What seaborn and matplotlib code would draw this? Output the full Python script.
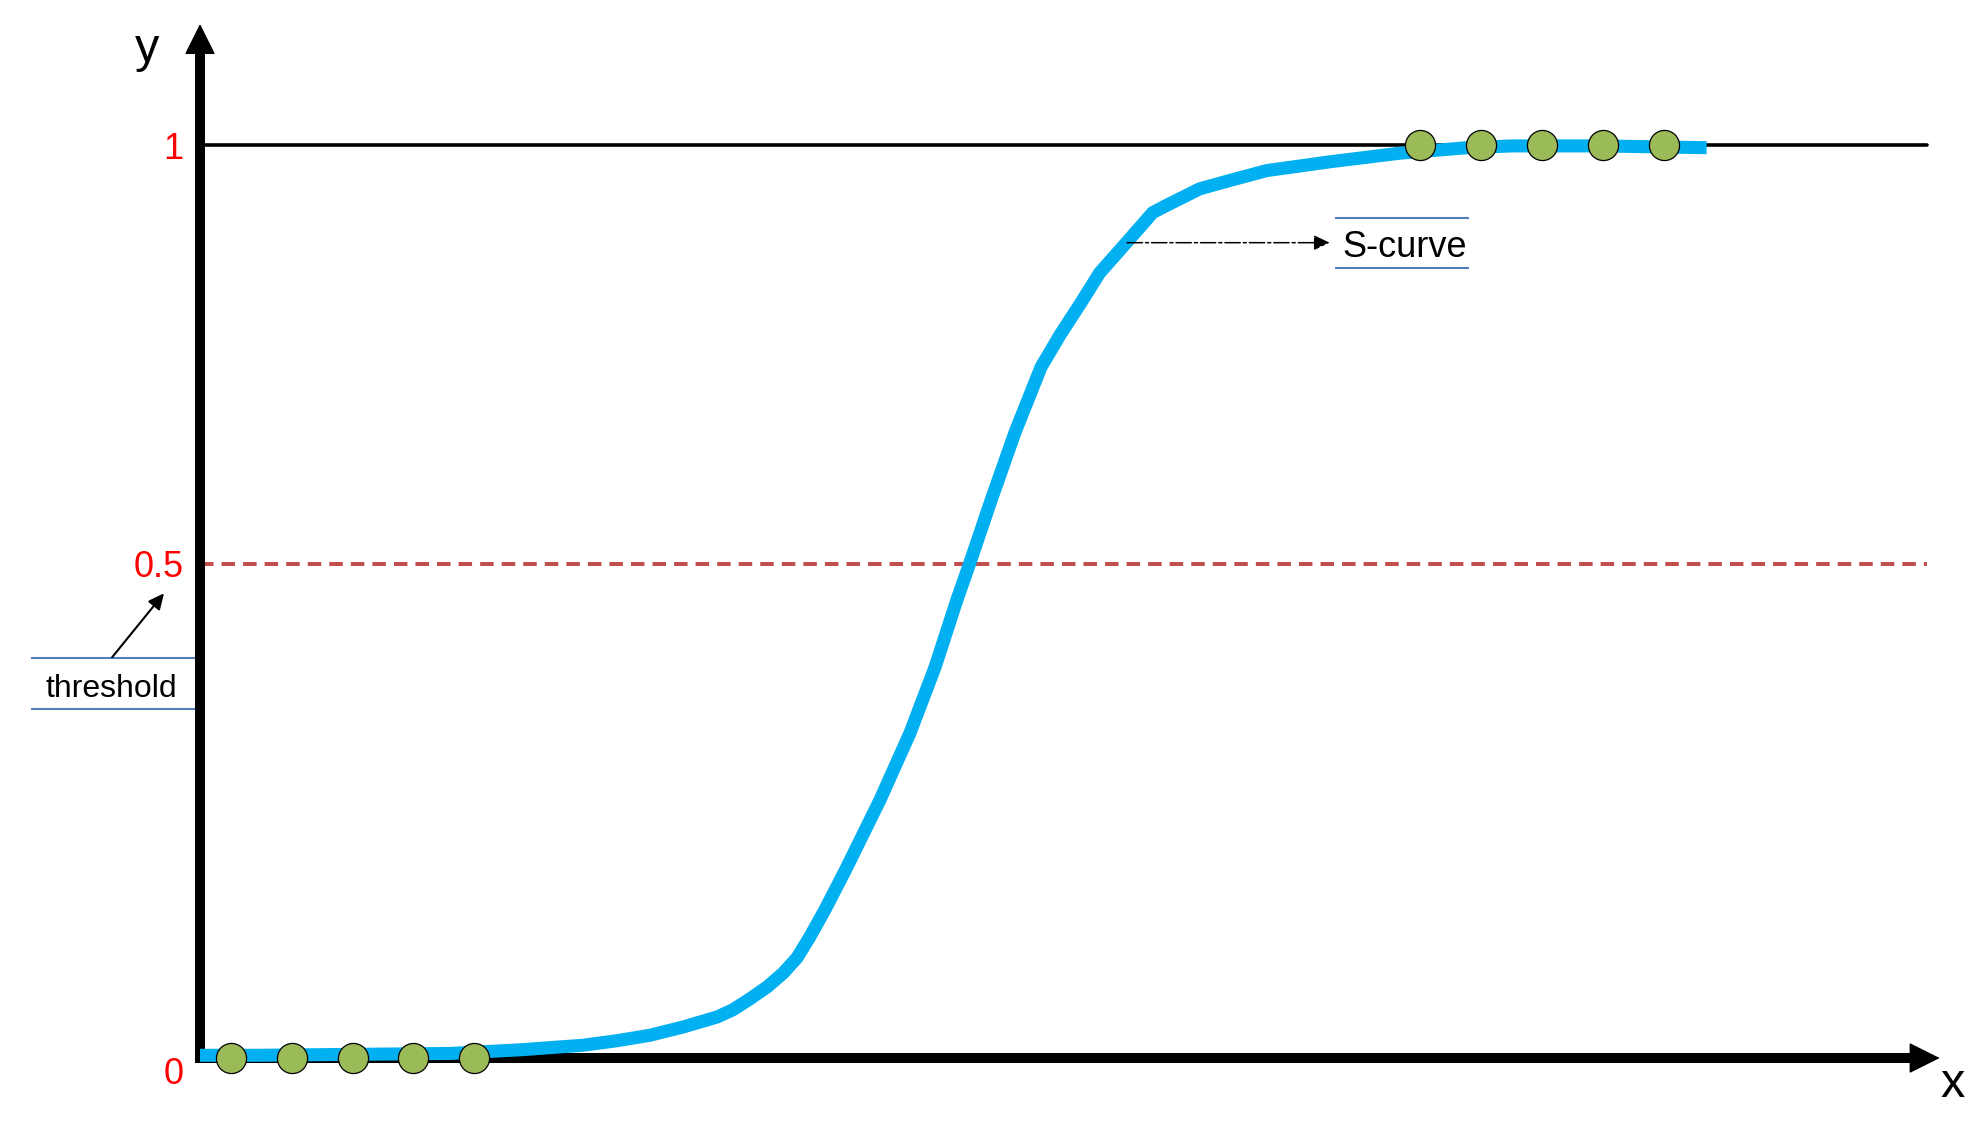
import numpy as np
import pandas as pd
import matplotlib
matplotlib.use("Agg")
import matplotlib.pyplot as plt
import seaborn as sns

# S-curve (x in arbitrary units, y as probability)
curve_x = [0.00, 0.98, 2.46, 4.10, 5.25, 6.28, 6.84, 7.38, 7.92, 8.48,
           8.74, 9.02, 9.30, 9.56, 9.79, 10.00, 10.25, 10.59, 11.15, 11.64,
           12.05, 12.41, 12.62, 12.97, 13.36, 13.79, 14.10, 14.44, 14.75, 15.20,
           15.62, 15.85, 16.39, 16.93, 17.49, 18.57, 19.67, 20.77, 21.52, 22.95,
           24.70]
curve_y = [0.003, 0.003, 0.004, 0.005, 0.009, 0.014, 0.019, 0.025, 0.034, 0.045,
           0.053, 0.065, 0.078, 0.093, 0.110, 0.133, 0.163, 0.207, 0.283, 0.356,
           0.428, 0.502, 0.542, 0.611, 0.685, 0.757, 0.792, 0.827, 0.860, 0.894,
           0.926, 0.934, 0.952, 0.962, 0.972, 0.982, 0.991, 0.997, 0.999, 0.999,
           0.997]

# observations: five at 0, five at 1
low_x = [0.5, 1.5, 2.5, 3.5, 4.5]
low_y = [0, 0, 0, 0, 0]
high_x = [20, 21, 22, 23, 24]
high_y = [1, 1, 1, 1, 1]

threshold = 0.541          # drawn level of the dashed line
tick_labels = ["0", "0.5", "1"]
x_end = 28.31              # right end of the guide lines

sns.set_theme(style="white")
plt.rcParams["font.family"] = ["Liberation Sans", "DejaVu Sans"]
plt.rcParams["text.color"] = "black"

fig = plt.figure(figsize=(19.86, 11.35), dpi=100)
ax = fig.add_axes([0, 0, 1, 1])
ax.set_xlim(-3.279, 29.28)
ax.set_ylim(-0.0843, 1.1588)
ax.axis("off")

# axes with arrow heads
ax.plot([0, 0], [-0.005, 1.105], color="black", lw=7.2, solid_capstyle="butt", zorder=2)
ax.plot([-0.08, 28.1], [0, 0], color="black", lw=7.2, solid_capstyle="butt", zorder=2)
head = "-|>,head_length=1.0,head_width=0.5"
ax.annotate("", xy=(0, 1.1325), xytext=(0, 1.0),
            arrowprops=dict(arrowstyle=head, mutation_scale=20, lw=1, color="black",
                            shrinkA=0, shrinkB=0), zorder=2)
ax.annotate("", xy=(28.52, 0), xytext=(27.0, 0),
            arrowprops=dict(arrowstyle=head, mutation_scale=20, lw=1, color="black",
                            shrinkA=0, shrinkB=0), zorder=2)
ax.text(-0.87, 1.091, "y", fontsize=35, ha="center", va="baseline")
ax.text(28.74, -0.0427, "x", fontsize=35, ha="center", va="baseline")

# reference lines
ax.plot([0, x_end], [1, 1], color="black", lw=2.6, zorder=1)
ax.plot([0, x_end], [threshold, threshold], color="#C0504D", lw=2.9,
        dashes=(3.35, 2.0), dash_capstyle="butt", zorder=1)

label_base = [-0.028, 0.527, 0.985]
for yb, lab in zip(label_base, tick_labels):
    ax.text(-0.27, yb, lab, color="red", fontsize=26, ha="right", va="baseline")

# curve and points
sns.lineplot(x=curve_x, y=curve_y, ax=ax, color="#00B0F0", linewidth=9.4,
             solid_capstyle="butt", solid_joinstyle="round", zorder=3)
pts = pd.DataFrame({"x": low_x + high_x, "y": low_y + high_y})
sns.scatterplot(data=pts, x="x", y="y", ax=ax, s=470, color="#9BBB59",
                edgecolor="black", linewidth=0.9, zorder=5)

# threshold annotation
ax.hlines([0.438, 0.382], -2.77, -0.08, color="#4F81BD", lw=1.5)
ax.text(-1.46, 0.395, "threshold", fontsize=23, ha="center", va="baseline")
ax.annotate("", xy=(-0.59, 0.509), xytext=(-1.44, 0.439),
            arrowprops=dict(arrowstyle="-|>,head_length=0.95,head_width=0.45",
                            mutation_scale=10, lw=1.5, color="black",
                            shrinkA=0, shrinkB=0))

# S-curve annotation
ax.hlines([0.920, 0.865], 18.61, 20.80, color="#4F81BD", lw=1.5)
ax.text(19.75, 0.877, "S-curve", fontsize=26, ha="center", va="baseline")
ax.annotate("", xy=(18.52, 0.893), xytext=(15.20, 0.893),
            arrowprops=dict(arrowstyle="-|>,head_length=0.95,head_width=0.45",
                            mutation_scale=10, lw=1.1, color="black",
                            linestyle=(0, (10, 2, 2, 2)), shrinkA=0, shrinkB=0),
            zorder=4)

fig.savefig("out.png", dpi=100)
